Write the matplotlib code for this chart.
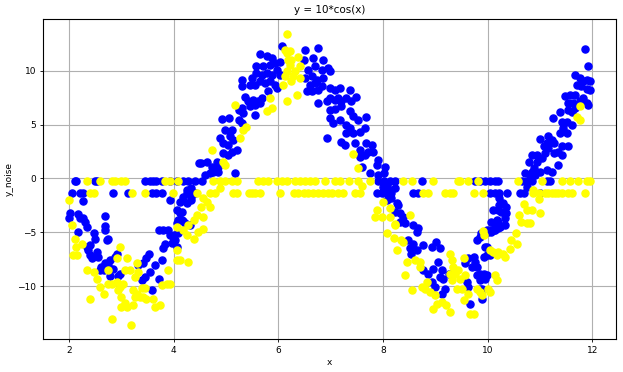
import matplotlib
matplotlib.use("Agg")
import matplotlib.pyplot as plt

title = "y = 10*cos(x)"
x_label = "x"
y_label = "y_noise"
x_ticks = [2, 4, 6, 8, 10, 12]
y_ticks = [-10, -5, 0, 5, 10]
row_levels = [-0.25, -1.38]

blue_band = [
    (2.02,-3.19),(2.0,-3.72),(2.21,-3.7),(2.27,-3.7),(2.31,-4.03),(2.69,-3.47),(2.69,-4.43),(2.69,-4.8),
    (2.18,-4.95),(2.34,-4.5),(2.47,-5.1),(2.5,-5.6),(2.4,-6.2),(2.34,-6.4),(2.72,-5.75),(2.75,-5.6),
    (2.37,-6.67),(2.4,-7.1),(2.43,-7.4),(2.53,-6.8),(2.56,-7.3),(2.69,-7.9),(2.62,-8.2),(2.75,-8.06),
    (2.78,-7.6),(2.91,-6.98),(2.88,-7.3),(2.59,-8.5),(2.66,-8.5),(2.78,-9.09),(2.94,-9.09),(2.85,-8.4),
    (2.97,-8.9),(3.32,-8.06),(3.42,-7.9),(3.48,-7.44),(3.52,-6.98),(3.39,-9.46),(3.45,-9.15),(3.55,-8.7),
    (3.64,-8.06),(3.71,-9.3),(3.58,-10.4),(3.77,-7.6),(3.8,-6.5),(3.83,-6.05),(3.71,-4.8),(3.8,-4.8),
    (3.9,-4.8),(3.93,-5.3),(4.0,-5.3),(4.03,-5.75),(4.06,-6.4),(4.06,-2.95),(4.09,-3.9),(3.93,-2.0),
    (2.26,-2.1),(2.18,-3.3),(4.48,1.4),(4.25,-2.3),(4.34,-1.7),(4.41,-1.33),(4.12,-3.2),(4.18,-4.0),
    (4.31,-4.3),(4.09,-5.1),(3.99,-5.4),(3.96,-6.0),
    (5.65,11.55),(5.78,11.4),(5.87,11.2),(5.57,10.4),(5.71,10.4),(5.84,10.55),(5.93,10.7),(6.03,10.85),
    (6.06,12.3),(5.30,9.16),(5.49,9.32),(5.58,9.78),(5.68,9.63),(5.78,9.78),(5.87,9.63),(5.97,10.1),
    (6.03,9.63),(5.30,8.54),(5.46,8.7),(5.55,8.7),(5.65,9.0),(5.74,8.85),(5.84,9.0),(5.93,8.7),
    (5.97,8.4),(5.36,7.6),(5.42,7.15),(5.52,7.3),(5.62,7.15),(5.68,7.45),(5.81,8.08),(5.24,6.35),
    (5.30,6.5),(5.46,6.68),(5.55,6.83),(5.65,6.98),(5.33,6.05),(5.55,5.9),(4.92,5.5),(5.05,5.6),
    (5.24,5.45),(5.30,5.1),(4.98,4.5),(5.11,4.5),(4.88,3.73),(5.08,3.89),(5.14,3.57),(4.94,3.27),
    (5.04,3.11),(5.21,2.64),(4.94,2.34),(5.04,2.18),(5.11,2.49),(4.53,1.4),(4.63,1.55),(4.73,1.09),
    (4.82,1.55),(4.79,0.93),(4.85,1.09),(4.76,0.62),(4.69,0.47),(4.6,0.31),(4.85,0.62),(5.17,0.47),
    (4.25,-1.08),(4.34,-0.93),(4.18,-1.7),(4.34,-2.0),(4.12,-2.17),(4.15,-3.1),(4.15,-3.87),(4.06,-4.18),
    (4.22,-4.18),
    (6.51,11.95),(6.76,12.1),(6.48,11.0),(6.67,11.2),(6.86,11.0),(6.57,10.1),(6.7,10.4),(6.83,10.1),
    (6.95,10.25),(6.98,9.95),(6.51,9.32),(6.64,9.48),(6.73,9.16),(6.86,9.32),(6.61,8.7),(6.7,8.85),
    (6.83,8.54),(6.54,8.08),(6.64,8.08),(6.76,8.23),(6.98,8.39),(6.98,7.45),(7.08,8.23),(7.17,8.39),
    (7.36,8.16),(7.49,7.6),(6.92,7.15),(7.08,7.3),(7.14,7.45),(7.2,7.15),(7.3,7.45),(7.39,7.15),
    (6.76,7.0),(6.98,6.37),(7.08,6.44),(7.2,6.68),(6.98,5.59),(7.17,5.44),(7.05,5.13),(7.43,5.75),
    (7.36,6.21),(7.52,5.44),(7.67,5.68),(7.3,4.97),(7.36,4.66),(7.43,4.2),(7.3,4.2),(7.55,4.35),
    (7.65,4.66),(6.92,3.73),(7.2,3.42),(7.27,3.11),(7.46,3.27),(7.55,2.64),(7.68,3.27),(7.78,3.11),
    (7.71,2.49),(7.55,2.02),(7.65,2.18),(7.81,2.49),(7.91,1.71),(7.88,1.24),(8.04,1.09),(7.59,1.09),
    (7.75,0.47),(7.91,0.31),(8.01,0.47),(8.08,-0.62),(8.27,-2.3),
    (8.0,-0.77),(8.13,-1.08),(8.23,-0.93),(8.07,-2.0),(8.16,-1.86),(8.29,-2.48),(8.23,-3.1),(8.32,-3.25),
    (8.39,-3.56),(8.42,-4.18),(8.32,-4.03),(8.58,-4.34),(8.67,-4.65),(8.64,-4.96),(8.48,-5.73),(8.58,-6.05),
    (8.51,-6.51),(8.64,-6.67),(8.54,-6.98),(8.77,-6.2),(8.93,-6.36),(9.02,-5.89),(9.09,-6.51),(8.77,-8.53),
    (8.86,-8.84),(8.96,-8.37),(9.05,-7.75),(9.12,-8.53),(9.09,-9.15),(8.93,-9.61),(9.0,-10.08),(9.15,-9.3),
    (9.25,-8.84),(9.12,-10.7),(9.18,-10.23),(9.57,-7.9),(9.63,-7.44),(9.73,-7.29),(9.76,-7.75),(9.79,-8.22),
    (9.69,-8.22),(9.6,-9.61),(9.63,-10.08),(9.66,-11.63),(9.79,-9.0),(9.85,-9.46),(9.92,-8.84),(9.98,-9.0),
    (9.95,-9.3),(9.89,-10.23),(9.89,-11.17),(9.79,-5.73),(9.85,-5.42),(9.98,-7.13),(10.04,-4.8),(10.14,-4.8),
    (10.2,-4.65),(10.2,-4.03),(10.2,-2.94),
    (11.86,12.02),(11.92,10.4),(11.67,9.63),(11.76,9.32),(11.82,9.0),(11.89,9.16),(11.95,9.0),(11.7,8.7),
    (11.79,8.54),(11.89,8.29),(11.95,8.23),(11.47,7.61),(11.57,7.77),(11.67,7.77),(11.82,7.46),(11.54,6.99),
    (11.63,6.99),(11.76,7.15),(11.89,6.99),(11.92,6.84),(11.38,6.2),(11.54,6.37),(11.6,6.2),(11.67,6.52),
    (11.25,5.58),(11.41,5.27),(11.51,5.27),(11.6,4.97),(11.44,4.66),(11.38,4.2),(11.51,4.2),(11.0,3.64),
    (11.16,3.89),(11.23,3.58),(11.13,3.27),(11.26,3.27),(11.07,2.96),(11.16,2.8),(11.41,2.96),(11.54,2.96),
    (11.35,2.49),(11.41,2.18),(10.84,2.18),(10.94,2.18),(11.1,2.34),(11.26,2.34),(11.04,1.87),(10.94,1.56),
    (10.88,0.94),(11.0,0.63),(11.13,0.78),(11.23,0.63),(11.35,1.25),(10.78,1.56),(10.84,0.63),(10.81,0.32),
    (10.72,0.47),(10.91,0.32),(10.75,-0.77),(10.22,-1.84),(10.29,-2.3),(10.22,-2.46),(10.35,-2.62),(10.1,-2.93),
    (10.26,-3.09),(10.35,-3.25),(10.32,-3.71),(10.16,-4.02),(10.07,-4.02),(10.22,-4.33),(10.32,-4.33),(10.13,-4.48),
    (9.98,-4.79),(9.88,-5.04),(10.07,-4.95),(9.95,-6.36),(9.92,-7.3),(9.86,-8.85),(9.86,-10.24),
    (10.17,-3.87),(10.23,-4.49),(10.11,-4.8),(10.01,-4.96),(9.98,-6.35),(10.04,-7.13),
]

yellow_band = [
    (2.0,-2.0),(2.05,-4.3),(2.11,-5.6),(2.14,-6.4),(2.08,-7.1),(2.16,-7.1),(2.24,-6.05),(2.34,-8.5),
    (2.47,-8.7),(2.4,-11.2),(2.53,-9.3),(2.59,-10.1),(2.66,-10.7),(2.75,-8.5),(2.75,-9.8),(2.82,-9.8),
    (2.91,-9.6),(2.98,-6.4),(3.11,-7.44),(2.91,-7.44),(2.98,-10.1),(3.04,-9.8),(2.94,-10.4),(3.0,-11.0),
    (3.07,-11.6),(3.0,-11.9),(3.1,-11.9),(3.23,-11.8),(2.82,-13.1),(3.18,-13.6),(3.07,-8.5),(3.17,-8.5),
    (3.26,-9.15),(3.23,-10.4),(3.29,-10.7),(3.26,-11.0),(3.36,-11.0),(3.42,-11.0),(3.39,-10.2),(3.45,-10.2),
    (3.29,-7.9),(3.32,-8.7),(3.48,-11.2),(3.61,-11.2),(3.64,-11.9),(3.74,-11.8),(3.77,-9.9),(3.87,-9.8),
    (3.93,-9.8),(3.9,-8.5),(4.06,-7.6),(4.06,-4.5),(4.18,-4.8),(4.25,-5.3),(4.39,-5.6),(4.39,-3.9),
    (4.06,-6.67),(4.12,-7.55),(4.28,-7.8),
    (6.16,13.4),(6.13,11.9),(6.16,11.65),(6.19,11.0),(6.16,9.95),(6.13,9.5),(6.16,7.15),(5.84,7.45),
    (5.17,6.83),(5.87,6.5),(5.78,6.3),(5.39,4.81),(5.33,4.5),(5.27,3.73),(4.73,2.64),(4.95,1.55),
    (4.98,1.24),(4.89,-0.93),(4.56,-1.86),(4.63,-2.17),(4.69,-2.64),(4.53,-2.64),(4.44,-3.42),(4.56,-3.57),
    (4.28,-4.35),(4.47,-4.97),(4.56,-4.66),
    (6.22,11.8),(6.25,11.0),(6.38,11.3),(6.22,10.55),(6.41,10.4),(6.31,9.95),(6.28,9.48),(6.41,9.32),
    (6.25,9.0),(6.09,8.7),(6.35,7.76),(7.43,2.27),(7.52,0.93),(7.59,-0.68),(7.88,-2.94),(7.85,-3.55),
    (7.97,-3.55),(8.13,-3.55),(8.07,-5.1),(8.23,-4.2),
    (8.0,-2.17),(8.13,-2.79),(8.23,-4.34),(8.51,-3.41),(8.2,-5.58),(8.35,-5.73),(8.38,-5.89),(8.26,-6.67),
    (8.45,-7.75),(8.61,-7.6),(8.7,-7.75),(8.42,-9.0),(8.7,-8.22),(8.56,-10.39),(8.74,-10.08),(8.83,-9.61),
    (8.8,-10.23),(8.9,-10.54),(9.0,-10.86),(9.03,-11.63),(8.96,-12.1),(9.12,-11.47),(9.21,-11.79),(9.28,-12.41),
    (9.28,-6.98),(9.31,-7.6),(9.34,-8.22),(9.37,-8.84),(9.47,-9.3),(9.44,-8.53),(9.28,-8.84),(9.31,-9.46),
    (9.41,-10.23),(9.54,-7.44),(9.57,-8.99),(9.5,-10.23),(9.54,-11.32),(9.63,-10.7),(9.66,-12.56),(9.73,-12.56),
    (9.79,-10.23),(9.85,-10.54),(9.89,-10.86),(9.92,-5.26),(10.04,-6.67),(10.1,-6.82),(10.17,-7.13),(10.14,-9.0),
    (10.17,-9.46),
    (11.76,6.68),(11.7,5.74),(11.76,5.43),(10.87,-1.12),(10.97,-1.95),(10.69,-2.38),(10.74,-2.93),(10.84,-2.93),
    (11.0,-3.2),(10.6,-3.42),(10.64,-4.02),(10.74,-4.12),(10.8,-4.12),(9.9,-4.9),(10.2,-6.84),(10.29,-7.0),
    (10.32,-7.31),(10.42,-6.53),(10.45,-5.74),(10.55,-6.06),(10.53,-5.11),(10.0,-10.24),(10.04,-10.55),
]

blue_row_top = [2.11, 2.14, 2.49, 2.53, 3.45, 3.55, 3.61, 3.67, 3.77, 3.93, 4.06, 4.18, 4.28, 4.4, 4.55,
                7.91, 8.02, 8.13, 8.23, 8.75, 9.76, 9.85, 9.95, 10.04, 10.14, 10.2, 10.65, 10.74, 10.84,
                11.13, 11.19]
blue_row_low = [2.05, 2.21, 2.27, 2.85, 3.12, 3.58, 3.67, 3.77, 4.25, 4.37, 7.88, 7.97, 8.07, 8.16,
                8.58, 8.67, 10.04, 10.14, 10.22, 10.36, 10.62, 10.69, 11.0]
yellow_row_top = [2.34, 2.59, 2.82, 2.88, 3.0, 3.07, 3.83, 3.92, 4.09, 4.76, 4.89, 4.98, 5.11, 5.2, 5.62,
                  5.71, 5.81, 5.97, 6.06, 6.16, 6.32, 6.41, 6.51, 6.6, 6.7, 6.89, 7.08, 7.17, 7.34, 7.53,
                  7.75, 8.39, 8.55, 8.96, 9.44, 9.47, 9.63, 9.82, 10.58, 11.03, 11.41, 11.57, 11.73,
                  11.89, 11.95]
yellow_row_low = [2.4, 2.47, 3.2, 3.45, 3.99, 4.44, 4.69, 4.79, 5.14, 5.2, 5.43, 5.49, 5.55, 5.65, 6.03,
                  6.29, 6.38, 6.48, 6.57, 6.67, 6.76, 6.86, 6.95, 7.02, 7.14, 7.24, 7.46, 7.56, 8.77,
                  8.86, 9.18, 9.28, 9.34, 9.73, 9.91, 10.87, 10.97, 11.1, 11.16, 11.23, 11.29, 11.35,
                  11.41, 11.54, 11.6, 11.86]


def collect(band, row_top, row_low):
    xs = [p[0] for p in band] + list(row_top) + list(row_low)
    ys = ([p[1] for p in band] + [row_levels[0]] * len(row_top)
          + [row_levels[1]] * len(row_low))
    return xs, ys


bx, by = collect(blue_band, blue_row_top, blue_row_low)
yx, yy = collect(yellow_band, yellow_row_top, yellow_row_low)

fig = plt.figure(figsize=(6.23, 3.72), dpi=100)
ax = fig.add_axes([0.069, 0.0874, 0.9198, 0.8616])
ax.scatter(bx, by, s=26, color="blue", zorder=2)
ax.scatter(yx, yy, s=26, color="yellow", zorder=2)
ax.set_xlim(1.503, 12.45)
ax.set_ylim(-14.96, 14.8)
ax.set_xticks(x_ticks)
ax.set_yticks(y_ticks)
ax.grid(True, color="#b0b0b0", linewidth=0.8)
ax.set_axisbelow(True)
ax.tick_params(labelsize=6.5, length=2.5, pad=2.2, width=0.6)
for s in ax.spines.values():
    s.set_linewidth(0.8)
ax.set_title(title, fontsize=7.5, pad=4)
ax.set_xlabel(x_label, fontsize=6.5, labelpad=2)
ax.set_ylabel(y_label, fontsize=6.5, labelpad=2.5)
fig.savefig("out.png", dpi=100)
